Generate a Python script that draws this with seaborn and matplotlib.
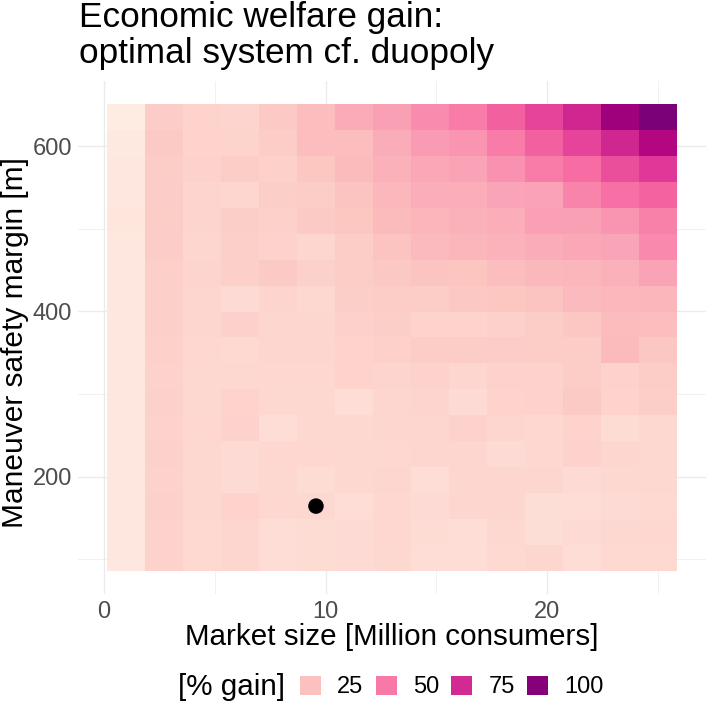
#!/usr/bin/env python
"""
Economic welfare gain heatmap: optimal system vs duopoly,
over market size and manoeuvre safety margin.
"""

import numpy as np
import matplotlib.pyplot as plt
import seaborn as sns
from matplotlib.colors import LinearSegmentedColormap, Normalize
from matplotlib.patches import Patch

# Grid (tile centres)
MARKET_SIZE = [1.0, 2.71, 4.43, 6.14, 7.86, 9.57, 11.29, 13.0,
               14.71, 16.43, 18.14, 19.86, 21.57, 23.29, 25.0]
SAFETY_MARGIN = [101.6, 133.0, 164.4, 195.8, 227.2, 258.5, 289.9, 321.3, 352.7,
                 384.1, 415.5, 446.9, 478.3, 509.7, 541.1, 572.4, 603.8, 635.2]

# Welfare gain (%), rows listed from top (largest margin) to bottom
GAIN_ROWS = [
    [6.5, 19.3, 16.8, 16.3, 21.0, 26.1, 34.2, 38.5, 44.9, 49.9, 57.7, 66.4, 75.9, 92.3, 104.0],
    [7.4, 20.6, 16.8, 16.8, 20.2, 26.1, 26.5, 33.4, 40.2, 42.2, 49.9, 57.7, 66.4, 75.9, 86.0],
    [8.2, 20.2, 17.2, 20.2, 18.0, 22.3, 27.4, 31.6, 35.1, 37.2, 42.8, 49.9, 54.0, 63.0, 70.2],
    [8.6, 19.3, 16.3, 15.9, 18.9, 20.0, 23.6, 28.7, 33.0, 33.0, 36.3, 37.2, 47.0, 53.1, 57.1],
    [9.1, 19.7, 16.3, 18.9, 18.0, 20.6, 22.3, 27.4, 29.5, 31.5, 33.0, 39.0, 38.5, 42.0, 48.0],
    [8.6, 19.3, 15.9, 18.5, 17.2, 15.5, 20.2, 23.6, 27.8, 29.1, 31.2, 33.8, 35.1, 36.3, 45.2],
    [8.6, 18.5, 16.3, 18.5, 20.6, 17.6, 19.7, 21.5, 23.6, 23.1, 26.1, 28.3, 29.1, 31.6, 37.7],
    [8.6, 18.5, 15.9, 13.8, 16.3, 14.6, 18.9, 19.7, 19.7, 21.5, 22.3, 23.6, 27.8, 28.7, 29.1],
    [8.6, 18.5, 15.9, 17.6, 15.5, 15.5, 17.6, 18.9, 16.8, 16.8, 17.6, 19.7, 22.0, 26.9, 26.5],
    [8.6, 18.0, 15.0, 14.2, 15.5, 15.5, 16.8, 18.0, 19.7, 20.2, 19.3, 20.2, 20.2, 27.4, 22.3],
    [8.6, 17.2, 14.6, 14.6, 15.0, 15.0, 16.8, 16.3, 17.2, 15.9, 17.2, 17.2, 19.7, 17.2, 19.7],
    [8.6, 17.6, 14.6, 16.8, 14.6, 14.6, 12.9, 16.0, 16.3, 13.8, 16.8, 17.2, 20.6, 16.8, 18.9],
    [8.6, 17.2, 15.0, 17.2, 12.9, 14.6, 14.6, 15.5, 15.5, 17.2, 15.5, 15.0, 16.8, 13.3, 14.6],
    [8.6, 17.6, 14.6, 13.8, 15.0, 15.0, 14.6, 15.0, 15.9, 15.9, 13.8, 15.0, 17.2, 15.5, 14.6],
    [8.6, 17.2, 14.6, 13.8, 14.6, 13.3, 14.6, 15.5, 12.9, 15.5, 15.9, 15.5, 13.8, 14.6, 14.6],
    [8.6, 17.6, 14.6, 16.8, 15.0, 14.6, 12.9, 15.0, 13.8, 15.9, 15.9, 12.1, 12.9, 13.8, 14.2],
    [8.6, 17.2, 14.2, 15.9, 12.9, 13.3, 13.8, 15.0, 13.3, 12.9, 14.6, 12.1, 13.8, 14.6, 15.0],
    [8.6, 17.2, 14.2, 15.9, 12.9, 13.3, 13.8, 14.6, 12.9, 12.9, 14.2, 15.9, 12.9, 14.2, 14.2],
]

# Current operating point
POINT_X = [9.57]
POINT_Y = [164.4]

LEGEND_BREAKS = [25, 50, 75, 100]

# RdPu (7-class brewer) as used by the distiller scale
RDPU = ['#FEEBE2', '#FCC5C0', '#FA9FB5', '#F768A1', '#DD3497', '#AE017E', '#7A0177']

gain = np.flipud(np.array(GAIN_ROWS))  # bottom row first for pcolormesh

# Style
sns.set_theme(style='whitegrid')
plt.rcParams['font.family'] = ['Liberation Sans', 'DejaVu Sans']
plt.rcParams['text.color'] = 'black'

cmap = LinearSegmentedColormap.from_list('rdpu7', RDPU)
norm = Normalize(vmin=gain.min(), vmax=gain.max())

fig = plt.figure(figsize=(7.07, 7.04), dpi=100)
ax = fig.add_axes([78.4 / 707, 1 - 594.3 / 704, 627.3 / 707, 513.6 / 704])

ax.pcolormesh(MARKET_SIZE, SAFETY_MARGIN, gain, cmap=cmap, norm=norm,
              shading='nearest', zorder=1)
sns.scatterplot(x=POINT_X, y=POINT_Y, color='black', s=125, edgecolor='none',
                legend=False, ax=ax, zorder=3)

ax.set_xlim(-1.14, 27.14)
ax.set_ylim(57.7, 679.0)
ax.set_xticks([0, 10, 20])
ax.set_xticks([5, 15, 25], minor=True)
ax.set_yticks([200, 400, 600])
ax.set_yticks([100, 300, 500], minor=True)
ax.set_axisbelow(True)
ax.grid(which='major', color='#EBEBEB', linewidth=1.0)
ax.grid(which='minor', color='#EBEBEB', linewidth=0.5)
ax.tick_params(which='both', length=0, labelsize=17, labelcolor='#4D4D4D')
ax.tick_params(axis='x', pad=5)
ax.tick_params(axis='y', pad=4.5)
sns.despine(ax=ax, left=True, bottom=True)

ax.set_xlabel('Market size [Million consumers]', fontsize=21.3, color='black')
ax.set_ylabel('Maneuver safety margin [m]', fontsize=21.5, color='black')
ax.xaxis.set_label_coords(0.5, -0.056)
ax.yaxis.set_label_coords(-0.079, 0.49)

# Title (two lines, left aligned with panel)
fig.text(79 / 707, 1 - 27.5 / 704, 'Economic welfare gain:', fontsize=25.3,
         va='baseline', color='black')
fig.text(79 / 707, 1 - 63.3 / 704, 'optimal system cf. duopoly', fontsize=25.3,
         va='baseline', color='black')

# Legend at bottom
fig.text(178 / 707, 1 - 687 / 704, '[% gain]', fontsize=21.3, va='center',
         ha='left', color='black')
handles = [Patch(facecolor=cmap(norm(b)), edgecolor='none') for b in LEGEND_BREAKS]
fig.legend(handles, [str(b) for b in LEGEND_BREAKS], loc='center left',
           bbox_to_anchor=(300 / 707, 1 - 687 / 704), ncol=4, frameon=False,
           fontsize=17, handlelength=0.89, handleheight=0.89, handletextpad=0.68,
           columnspacing=0.52, borderaxespad=0, borderpad=0, labelcolor='black')

fig.savefig('out.png', dpi=100)
